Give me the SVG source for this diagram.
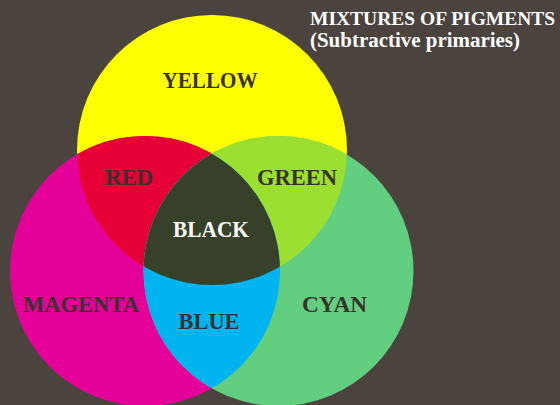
<svg xmlns="http://www.w3.org/2000/svg" width="560" height="405" viewBox="0 0 560 405">
  <style>
    .lbl { font-family: "Liberation Serif", "Times New Roman", serif; font-weight: bold; font-size: 23px; fill: #3a322c; text-anchor: middle; }
    .white { fill: #ffffff; }
    .title { font-family: "Liberation Serif", "Times New Roman", serif; font-weight: bold; fill: #ffffff; }
  </style>
  <defs>
    <clipPath id="clipY"><circle cx="212" cy="150" r="135"/></clipPath>
    <clipPath id="clipM"><circle cx="145" cy="271" r="135"/></clipPath>
  </defs>
  <rect x="0" y="0" width="560" height="405" fill="#4a433e"/>

  <g id="yellow">
    <circle cx="212" cy="150" r="135" fill="#ffff00"/>
  </g>
  <g id="magenta">
    <circle cx="145" cy="271" r="135" fill="#e6009a"/>
  </g>
  <g id="cyan">
    <circle cx="278.5" cy="271" r="135" fill="#62cf80"/>
  </g>
  <g id="red">
    <circle cx="145" cy="271" r="135" fill="#e60035" clip-path="url(#clipY)"/>
  </g>
  <g id="green">
    <circle cx="278.5" cy="271" r="135" fill="#9be030" clip-path="url(#clipY)"/>
  </g>
  <g id="blue">
    <circle cx="278.5" cy="271" r="135" fill="#00b4f0" clip-path="url(#clipM)"/>
  </g>
  <g id="black">
    <g clip-path="url(#clipY)">
      <circle cx="278.5" cy="271" r="135" fill="#37412a" clip-path="url(#clipM)"/>
    </g>
  </g>

  <g id="labels">
    <text class="lbl" x="210" y="88" textLength="95" lengthAdjust="spacingAndGlyphs">YELLOW</text>
    <text class="lbl" x="129" y="185" textLength="48" lengthAdjust="spacingAndGlyphs">RED</text>
    <text class="lbl" x="297" y="185" textLength="80" lengthAdjust="spacingAndGlyphs">GREEN</text>
    <text class="lbl white" x="211" y="237" textLength="76" lengthAdjust="spacingAndGlyphs">BLACK</text>
    <text class="lbl" x="81" y="312" textLength="116" lengthAdjust="spacingAndGlyphs">MAGENTA</text>
    <text class="lbl" x="209" y="329" textLength="61" lengthAdjust="spacingAndGlyphs">BLUE</text>
    <text class="lbl" x="334.5" y="312" textLength="65" lengthAdjust="spacingAndGlyphs">CYAN</text>
  </g>

  <g id="title">
    <text class="title" x="310" y="25" font-size="19.5">MIXTURES OF PIGMENTS</text>
    <text class="title" x="310" y="47" font-size="20" textLength="210" lengthAdjust="spacingAndGlyphs">(Subtractive primaries)</text>
  </g>
</svg>
